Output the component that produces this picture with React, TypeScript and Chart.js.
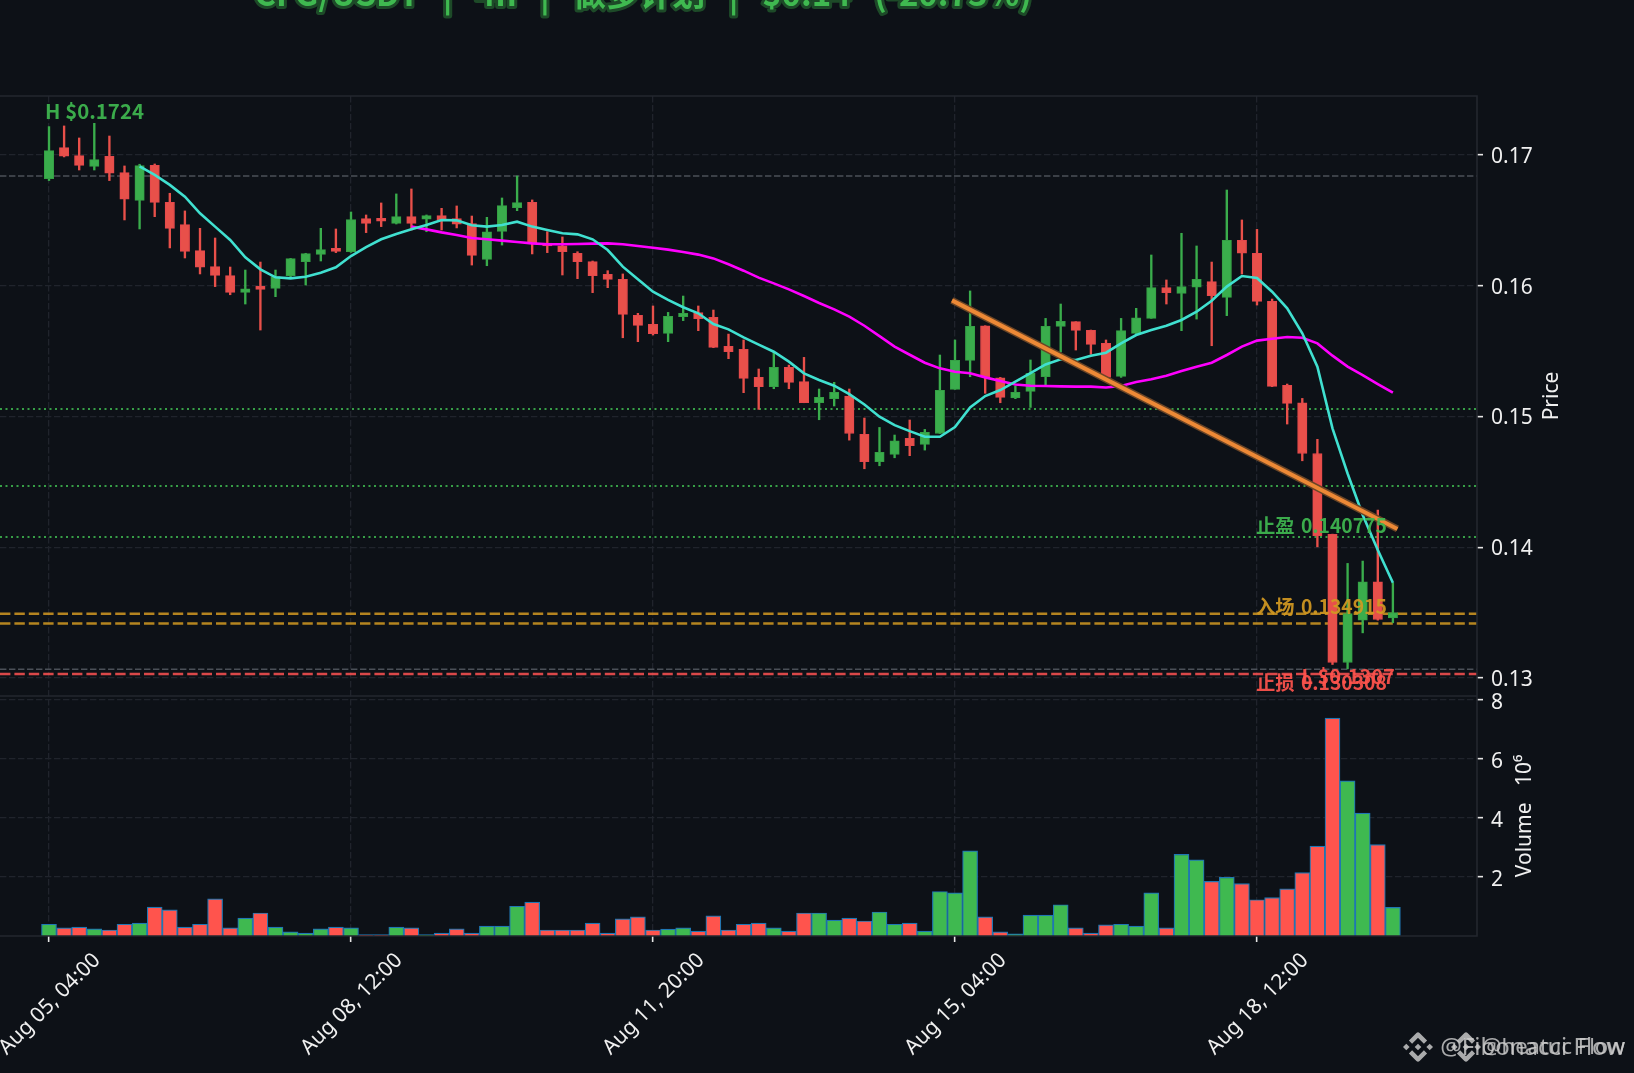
import React, { useEffect, useRef } from "react";
import { Chart, registerables } from "chart.js";

Chart.register(...registerables);

const opens = [
  .16819,.17056,.16995,.16913,.16990,.16865,.16653,.16921,.16638,.16467,
  .16268,.16146,.16077,.15949,.15993,.15980,.16077,.16184,.16240,.16278,
  .16260,.16513,.16500,.16477,.16528,.16508,.16536,.16513,.16475,.16202,
  .16416,.16597,.16638,.16324,.16306,.16248,.16184,.16087,.16049,.15773,
  .15704,.15636,.15763,.15794,.15758,.15536,.15513,.15299,.15228,.15375,
  .15266,.15105,.15136,.15156,.14863,.14654,.14710,.14832,.14786,.14870,
  .15207,.15429,.15694,.15296,.15141,.15192,.15304,.15689,.15725,.15659,
  .15559,.15307,.15636,.15750,.15985,.15942,.15988,.16031,.15911,.16347,
  .16248,.15880,.15238,.15105,.14717,.14098,.13118,.13442,.13736,.13460,
];
const highs = [
  .17217,.17222,.17130,.17242,.17145,.16916,.16929,.16931,.16707,.16572,
  .16439,.16365,.16143,.16120,.16181,.16120,.16209,.16248,.16439,.16434,
  .16564,.16541,.16633,.16702,.16740,.16541,.16592,.16610,.16533,.16523,
  .16671,.16839,.16656,.16413,.16373,.16260,.16189,.16115,.16090,.15789,
  .15845,.15796,.15921,.15845,.15814,.15630,.15585,.15363,.15495,.15393,
  .15452,.15210,.15261,.15210,.14988,.14916,.14858,.14973,.14901,.15470,
  .15585,.15960,.15694,.15299,.15233,.15432,.15750,.15860,.15725,.15661,
  .15585,.15750,.15827,.16235,.16044,.16401,.16304,.16181,.16732,.16503,
  .16431,.15898,.15248,.15138,.14825,.14100,.13876,.13894,.14284,.13728,
];
const lows = [
  .16804,.16985,.16885,.16885,.16804,.16503,.16434,.16528,.16289,.16212,
  .16090,.15993,.15931,.15860,.15661,.15916,.16056,.16005,.16189,.16253,
  .16255,.16406,.16452,.16472,.16426,.16413,.16426,.16442,.16158,.16153,
  .16311,.16574,.16243,.16253,.16082,.16054,.15947,.15985,.15602,.15572,
  .15623,.15572,.15733,.15656,.15526,.15442,.15182,.15054,.15212,.15212,
  .15105,.14975,.15080,.14819,.14600,.14623,.14684,.14700,.14743,.14870,
  .15207,.15304,.15177,.15105,.15136,.15069,.15240,.15493,.15508,.15475,
  .15299,.15299,.15623,.15750,.15860,.15656,.15745,.15541,.15771,.16090,
  .15852,.15228,.14942,.14661,.14003,.13103,.13070,.13345,.13442,.13422,
];
const closes = [
  .17033,.16990,.16921,.16964,.16860,.16661,.16918,.16638,.16439,.16263,
  .16141,.16079,.15949,.15977,.15972,.16069,.16207,.16245,.16276,.16263,
  .16505,.16477,.16493,.16528,.16477,.16536,.16503,.16470,.16232,.16413,
  .16612,.16635,.16319,.16304,.16260,.16184,.16077,.16049,.15781,.15697,
  .15633,.15766,.15789,.15748,.15528,.15495,.15291,.15228,.15375,.15261,
  .15105,.15146,.15184,.14870,.14654,.14725,.14814,.14776,.14878,.15199,
  .15429,.15689,.15304,.15146,.15184,.15330,.15689,.15727,.15659,.15551,
  .15299,.15656,.15755,.15985,.15947,.15993,.16049,.15924,.16347,.16248,
  .15880,.15230,.15100,.14717,.14088,.13118,.13493,.13736,.13447,.13500,
];
const volumes = [
  .40,.275,.305,.245,.205,.40,.44,.98,.885,.305,
  .40,1.26,.275,.61,.78,.305,.14,.10,.245,.305,
  .275,.05,.05,.305,.275,.05,.10,.245,.10,.335,
  .335,1.01,1.15,.205,.205,.205,.44,.10,.58,.65,
  .205,.235,.275,.167,.68,.205,.40,.44,.275,.167,
  .78,.78,.54,.61,.51,.815,.40,.44,.167,1.51,
  1.465,2.89,.65,.14,.07,.71,.71,1.06,.275,.10,
  .375,.40,.335,1.465,.275,2.77,2.58,1.85,1.99,1.78,
  1.23,1.30,1.60,2.15,3.05,7.39,5.26,4.17,3.10,.97,
];
const ma7Start = 6;
const ma7 = [
  .16913,.16847,.16771,.16681,.16554,.16452,.16350,.16217,.16125,.16064,
  .16056,.16069,.16100,.16141,.16227,.16296,.16355,.16396,.16431,.16464,
  .16503,.16500,.16462,.16452,.16464,.16490,.16452,.16426,.16401,.16393,
  .16355,.16273,.16146,.16049,.15954,.15891,.15835,.15789,.15707,.15666,
  .15605,.15549,.15495,.15419,.15330,.15279,.15235,.15171,.15092,.14998,
  .14934,.14888,.14845,.14845,.14919,.15069,.15156,.15202,.15266,.15332,
  .15398,.15437,.15432,.15465,.15488,.15559,.15623,.15661,.15694,.15738,
  .15801,.15885,.15993,.16074,.16059,.15954,.15827,.15636,.15381,.14909,
  .14564,.14246,.13978,.13728,
];
const ma25Start = 24;
const ma25 = [
  .16452,.16431,.16408,.16388,.16365,.16355,.16345,.16334,.16324,.16317,
  .16317,.16319,.16322,.16324,.16317,.16304,.16291,.16276,.16258,.16238,
  .16209,.16164,.16115,.16062,.16018,.15972,.15921,.15868,.15819,.15763,
  .15694,.15615,.15534,.15472,.15411,.15368,.15342,.15330,.15299,.15271,
  .15245,.15235,.15233,.15230,.15228,.15228,.15222,.15233,.15263,.15284,
  .15312,.15347,.15381,.15411,.15470,.15534,.15580,.15595,.15608,.15602,
  .15559,.15465,.15381,.15317,.15248,.15182,
];
const trendX = [59.8, 89.3];
const trendY = [.15888, .14140];
const tickIndexes = [0, 20, 40, 60, 80];
const tickLabels = ["Aug 05, 04:00", "Aug 08, 12:00", "Aug 11, 20:00", "Aug 15, 04:00", "Aug 18, 12:00"];
const priceTicks = [.13, .14, .15, .16, .17];
const volumeTicks = [2, 4, 6, 8];
const greyLevels = [.16839, .13067];
const targetLevels = [.15057, .14468, .140775];
const entryLevels = [.134915, .13417];
const stopLevel = .130308;
const titleText = "CFG/USDT | 4h | 做多计划 | $0.14 (-20.73%)";
const priceAxisTitle = "Price";
const volumeAxisTitle = "Volume   10⁶";
const highText = "H $0.1724";
const lowText = "L $0.1307";
const tpText = "止盈 0.140775";
const entryText = "入场 0.134915";
const slText = "止损 0.130308";
const watermarks = ["@Fibonacci Flow", "@heatuc Flow"];

const BG = "#0d1117";
const GREEN = "#3fb950";
const RED = "#ff544d";
const CANDLE_GREEN = "#3aad4c";
const CANDLE_RED = "#e8504a";
const GRID = "#20242c";
const FONT = '"Noto Sans", sans-serif';
const CJK = '"Noto Sans CJK SC", "Noto Sans", sans-serif';
const xMin = -3.245;
const xMax = 94.57;

const isUp = (i: number) => closes[i] >= opens[i];
const hline = (v: number, color: string, dash: number[], width: number) => ({
  type: "line" as const,
  data: [{ x: xMin, y: v }, { x: xMax, y: v }],
  yAxisID: "y",
  borderColor: color,
  borderDash: dash,
  borderWidth: width,
  pointRadius: 0,
  order: 6,
});

function logo(ctx: CanvasRenderingContext2D, cx: number, cy: number, r: number) {
  const d = (x: number, y: number, s: number) => {
    ctx.beginPath();
    ctx.moveTo(x, y - s);
    ctx.lineTo(x + s, y);
    ctx.lineTo(x, y + s);
    ctx.lineTo(x - s, y);
    ctx.closePath();
    ctx.fill();
  };
  d(cx, cy, r * 0.22);
  d(cx - r * 0.78, cy, r * 0.22);
  d(cx + r * 0.78, cy, r * 0.22);
  ctx.lineWidth = r * 0.3;
  ctx.beginPath();
  ctx.moveTo(cx - r * 0.5, cy - r * 0.33);
  ctx.lineTo(cx, cy - r * 0.83);
  ctx.lineTo(cx + r * 0.5, cy - r * 0.33);
  ctx.moveTo(cx - r * 0.5, cy + r * 0.33);
  ctx.lineTo(cx, cy + r * 0.83);
  ctx.lineTo(cx + r * 0.5, cy + r * 0.33);
  ctx.stroke();
}

const overlayPlugin = {
  id: "overlay",
  beforeDraw(chart: any) {
    const { ctx, width, height } = chart;
    ctx.save();
    ctx.fillStyle = BG;
    ctx.fillRect(0, 0, width, height);
    ctx.restore();
  },
  afterDatasetsDraw(chart: any) {
    const { ctx, scales, chartArea } = chart;
    const x = (v: number) => scales.x.getPixelForValue(v);
    const y = (v: number) => scales.y.getPixelForValue(v);
    ctx.save();
    // panel frames
    ctx.strokeStyle = "#23272f";
    ctx.lineWidth = 1.6;
    ctx.beginPath();
    ctx.moveTo(0, chartArea.top);
    ctx.lineTo(chartArea.right, chartArea.top);
    ctx.lineTo(chartArea.right, chartArea.bottom);
    ctx.lineTo(0, chartArea.bottom);
    ctx.moveTo(0, scales.y.bottom);
    ctx.lineTo(chartArea.right, scales.y.bottom);
    ctx.stroke();

    ctx.textBaseline = "middle";
    const label = (t: string, px: number, py: number, c: string, size: number, spacing: string, align: CanvasTextAlign = "left") => {
      ctx.font = `600 ${size}px ${CJK}`;
      (ctx as any).wordSpacing = spacing;
      ctx.textAlign = align;
      ctx.fillStyle = c;
      ctx.globalAlpha = 0.92;
      ctx.fillText(t, px, py);
      ctx.globalAlpha = 1;
    };
    label(highText, x(-0.26), 111, GREEN, 20.4, "0px");
    label(lowText, x(89.13), y(.1307) + 8, RED, 20, "0px", "right");
    label(tpText, x(79.93), y(targetLevels[2]) - 11, GREEN, 19.3, "2px");
    label(entryText, x(79.93), y(entryLevels[0]) - 7, "#d29922", 19.3, "2px");
    label(slText, x(79.93), y(stopLevel) + 9, RED, 19.3, "2px");
    (ctx as any).wordSpacing = "0px";

    // axis titles, reading upwards
    const vTitle = (t: string, px: number, py: number) => {
      ctx.save();
      ctx.translate(px, py);
      ctx.rotate(-Math.PI / 2);
      ctx.font = `21px ${FONT}`;
      ctx.textAlign = "center";
      ctx.textBaseline = "middle";
      ctx.fillStyle = "#f0f0f0";
      ctx.fillText(t, 0, 0);
      ctx.restore();
    };
    vTitle(priceAxisTitle, chartArea.right + 75, (scales.y.top + scales.y.bottom) / 2);
    vTitle(volumeAxisTitle, chartArea.right + 48, (scales.yv.top + scales.yv.bottom) / 2);

    // title, cut by the top of the page as in the source
    ctx.font = `bold 33px ${CJK}`;
    (ctx as any).wordSpacing = "16px";
    ctx.textAlign = "center";
    ctx.textBaseline = "alphabetic";
    ctx.lineJoin = "round";
    ctx.lineWidth = 6;
    ctx.strokeStyle = "#1d4a28";
    ctx.strokeText(titleText, 643, 6);
    ctx.fillStyle = GREEN;
    ctx.fillText(titleText, 643, 6);
    (ctx as any).wordSpacing = "0px";

    // watermarks
    ctx.fillStyle = "rgba(205,205,205,0.82)";
    ctx.strokeStyle = "rgba(205,205,205,0.82)";
    logo(ctx, 1418, 1047, 15);
    logo(ctx, 1466, 1047, 15);
    ctx.textBaseline = "middle";
    ctx.textAlign = "right";
    ctx.font = `24px ${FONT}`;
    ctx.fillText(watermarks[0], 1625, 1048);
    ctx.font = `22px ${FONT}`;
    ctx.fillText(watermarks[1], 1625, 1048);
    ctx.restore();
  },
};

export default function App() {
  const ref = useRef<HTMLCanvasElement>(null);
  useEffect(() => {
    if (!ref.current) return;
    const idx = opens.map((_, i) => i);
    const candleColor = (ctx: any) => (isUp(ctx.dataIndex) ? CANDLE_GREEN : CANDLE_RED);
    const gridOpts = { color: GRID, lineWidth: 1.3, tickColor: "#e6e6e6", tickLength: 6, tickWidth: 1.6, offset: false };
    const tickFont = { family: FONT, size: 21 };
    const chart = new Chart(ref.current, {
      type: "bar",
      plugins: [overlayPlugin],
      data: {
        datasets: [
          ...greyLevels.map((v) => hline(v, "#4b5058", [6.4, 2.6], 1.4)),
          ...targetLevels.map((v) => hline(v, "rgba(63,185,80,0.85)", [2, 3.5], 2)),
          ...entryLevels.map((v) => hline(v, "rgba(210,153,34,0.85)", [10.4, 4], 2.6)),
          hline(stopLevel, "rgba(255,82,82,0.85)", [10.4, 4], 2.6),
          {
            type: "bar",
            data: idx.map((i) => ({ x: i, y: [lows[i], highs[i]] })),
            yAxisID: "y",
            grouped: false,
            barThickness: 1.7,
            backgroundColor: candleColor,
            borderWidth: 0,
            order: 5,
          },
          {
            type: "bar",
            data: idx.map((i) => ({ x: i, y: [opens[i], closes[i]] })),
            yAxisID: "y",
            grouped: false,
            barThickness: 9.4,
            minBarLength: 3,
            backgroundColor: candleColor,
            borderColor: (ctx: any) => (isUp(ctx.dataIndex) ? "#35a045" : "#e5484d"),
            borderWidth: 1,
            borderSkipped: false,
            order: 4,
          },
          {
            type: "line",
            data: ma7.map((v, i) => ({ x: i + ma7Start, y: v })),
            yAxisID: "y",
            borderColor: "#40e0d0",
            borderWidth: 2.6,
            pointRadius: 0,
            order: 2,
          },
          {
            type: "line",
            data: ma25.map((v, i) => ({ x: i + ma25Start, y: v })),
            yAxisID: "y",
            borderColor: "#ff00ff",
            borderWidth: 2.6,
            pointRadius: 0,
            order: 3,
          },
          {
            type: "line",
            data: trendX.map((v, i) => ({ x: v, y: trendY[i] })),
            yAxisID: "y",
            borderColor: "#6b4526",
            borderWidth: 7,
            pointRadius: 0,
            order: 1,
          },
          {
            type: "line",
            data: trendX.map((v, i) => ({ x: v, y: trendY[i] })),
            yAxisID: "y",
            borderColor: "#ed8936",
            borderWidth: 4,
            pointRadius: 0,
            order: 0,
          },
          {
            type: "bar",
            data: idx.map((i) => ({ x: i, y: volumes[i] })),
            yAxisID: "yv",
            grouped: false,
            barThickness: 15,
            backgroundColor: (ctx: any) => (isUp(ctx.dataIndex) ? GREEN : RED),
            borderColor: "#1f77b4",
            borderWidth: 1.2,
            order: 7,
          },
        ] as any,
      },
      options: {
        responsive: false,
        animation: false,
        devicePixelRatio: 1,
        layout: { padding: { top: 96, left: 0, right: 0, bottom: 0 } },
        plugins: { legend: { display: false }, tooltip: { enabled: false }, title: { display: false } },
        scales: {
          x: {
            type: "linear",
            position: "bottom",
            offset: false,
            min: xMin,
            max: xMax,
            afterBuildTicks: (s: any) => {
              s.ticks = tickIndexes.map((value) => ({ value }));
            },
            afterFit: (s: any) => {
              s.height = 137;
              s.paddingLeft = 0;
              s.paddingRight = 0;
            },
            border: { display: false, dash: [6.4, 2.6] },
            grid: gridOpts,
            ticks: {
              autoSkip: false,
              minRotation: 45,
              maxRotation: 45,
              labelOffset: 48,
              padding: 6,
              color: "#f0f0f0",
              font: tickFont,
              callback: (v: any) => tickLabels[tickIndexes.indexOf(Number(v))] ?? "",
            },
          },
          y: {
            type: "linear",
            position: "right",
            stack: "panels",
            stackWeight: 5,
            min: 0.12862,
            max: 0.17451,
            afterBuildTicks: (s: any) => {
              s.ticks = priceTicks.map((value) => ({ value }));
            },
            afterFit: (s: any) => {
              s.width = 157;
              s.paddingTop = 0;
              s.paddingBottom = 0;
            },
            border: { display: false, dash: [6.4, 2.6] },
            grid: gridOpts,
            ticks: {
              padding: 8,
              labelOffset: 2,
              color: "#f0f0f0",
              font: tickFont,
              callback: (v: any) => Number(v).toFixed(2),
            },
          },
          yv: {
            type: "linear",
            position: "right",
            stack: "panels",
            stackWeight: 2,
            min: 0,
            max: 8.14,
            afterBuildTicks: (s: any) => {
              s.ticks = volumeTicks.map((value) => ({ value }));
            },
            afterFit: (s: any) => {
              s.width = 157;
              s.paddingTop = 0;
              s.paddingBottom = 0;
            },
            border: { display: false, dash: [6.4, 2.6] },
            grid: gridOpts,
            ticks: {
              padding: 8,
              labelOffset: 2.5,
              color: "#f0f0f0",
              font: tickFont,
              callback: (v: any) => String(v),
            },
          },
        },
      } as any,
    });
    return () => chart.destroy();
  }, []);
  return (
    <canvas
      ref={ref}
      width={1634}
      height={1073}
      style={{ position: "absolute", left: 0, top: 0, display: "block" }}
    />
  );
}
